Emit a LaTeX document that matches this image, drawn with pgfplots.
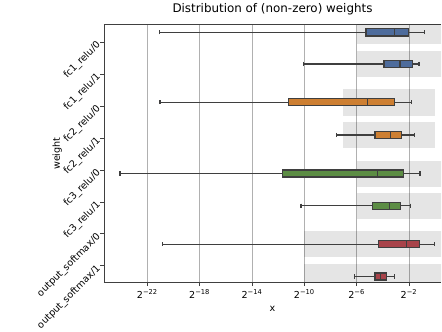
\documentclass[border=0pt]{standalone}
\usepackage{pgfplots}
\pgfplotsset{compat=1.18}
\usepgfplotslibrary{statistics}
\usepackage{fontspec}
\setmainfont{DejaVu Sans}
\definecolor{cblue}{HTML}{4E6C9C}
\definecolor{corange}{HTML}{CD7F32}
\definecolor{cgreen}{HTML}{5C8D44}
\definecolor{cred}{HTML}{A8434A}
\definecolor{edgec}{HTML}{3F3F3F}
\definecolor{gridc}{HTML}{B0B0B0}
\begin{document}
\begin{tikzpicture}
\begin{axis}[
  scale only axis, width=337pt, height=257.8pt,
  xmin=-25.31, xmax=0.45, ymin=-0.54, ymax=7.52, y dir=reverse,
  boxplot/draw direction=x,
  axis x line*=box, axis y line*=left,
  axis line style={-, line width=0.8pt, color=black!75},
  xtick={-22,-18,-14,-10,-6,-2},
  xticklabels={2\textsuperscript{−22},2\textsuperscript{−18},2\textsuperscript{−14},2\textsuperscript{−10},2\textsuperscript{−6},2\textsuperscript{−2}},
  ytick={0,1,2,3,4,5,6,7},
  yticklabels={fc1\_relu/0,fc1\_relu/1,fc2\_relu/0,fc2\_relu/1,fc3\_relu/0,fc3\_relu/1,output\_softmax/0,output\_softmax/1},
  xtick pos=bottom, ytick pos=left,
  tick align=outside, major tick length=3.5pt,
  tick style={line width=0.8pt, color=black!75},
  ticklabel style={font=\fontsize{9.6}{11}\selectfont},
  yticklabel style={rotate=45, anchor=east, inner sep=2pt},
  xmajorgrids, major grid style={color=gridc, line width=0.8pt},
  title={Distribution of (non-zero) weights},
  title style={font=\fontsize{11.9}{14}\selectfont},
  xlabel={x}, ylabel={weight},
  label style={font=\fontsize{9.6}{11}\selectfont},
  xlabel style={at={(axis description cs:0.5,-0.103)}, anchor=center},
  ylabel style={at={(axis description cs:-0.139,0.5)}, anchor=center},
]
% shaded ranges
\addplot[fill=black, fill opacity=0.1, draw=none] coordinates {(-6,-0.77) (1,-0.77) (1,0.06) (-6,0.06)} -- cycle;
\addplot[fill=black, fill opacity=0.1, draw=none] coordinates {(-6,0.27) (1,0.27) (1,1.10) (-6,1.10)} -- cycle;
\addplot[fill=black, fill opacity=0.1, draw=none] coordinates {(-7.05,1.48) (0,1.48) (0,2.30) (-7.05,2.30)} -- cycle;
\addplot[fill=black, fill opacity=0.1, draw=none] coordinates {(-7.05,2.49) (0,2.49) (0,3.32) (-7.05,3.32)} -- cycle;
\addplot[fill=black, fill opacity=0.1, draw=none] coordinates {(-6,3.71) (1,3.71) (1,4.52) (-6,4.52)} -- cycle;
\addplot[fill=black, fill opacity=0.1, draw=none] coordinates {(-6,4.71) (1,4.71) (1,5.54) (-6,5.54)} -- cycle;
\addplot[fill=black, fill opacity=0.1, draw=none] coordinates {(-10,5.91) (1,5.91) (1,6.73) (-10,6.73)} -- cycle;
\addplot[fill=black, fill opacity=0.1, draw=none] coordinates {(-10,6.93) (1,6.93) (1,7.76) (-10,7.76)} -- cycle;
% boxes (values in log2 units)
\pgfplotsset{bx/.style={draw=edgec, line width=1.2pt, solid, mark=none}}
\addplot[bx, fill=cblue, boxplot prepared={lower whisker=-21.08, lower quartile=-5.28, median=-3.12, upper quartile=-2.05, upper whisker=-0.79, draw position=-0.30, box extend=0.22, whisker extend=0.13}] coordinates {};
\addplot[bx, fill=cblue, boxplot prepared={lower whisker=-10.04, lower quartile=-3.90, median=-2.68, upper quartile=-1.74, upper whisker=-1.23, draw position=0.69, box extend=0.22, whisker extend=0.13}] coordinates {};
\addplot[bx, fill=corange, boxplot prepared={lower whisker=-21.03, lower quartile=-11.22, median=-5.15, upper quartile=-3.12, upper whisker=-1.82, draw position=1.88, box extend=0.22, whisker extend=0.13}] coordinates {};
\addplot[bx, fill=corange, boxplot prepared={lower whisker=-7.52, lower quartile=-4.59, median=-3.42, upper quartile=-2.58, upper whisker=-1.56, draw position=2.91, box extend=0.22, whisker extend=0.13}] coordinates {};
\addplot[bx, fill=cgreen, boxplot prepared={lower whisker=-24.09, lower quartile=-11.68, median=-4.42, upper quartile=-2.40, upper whisker=-1.15, draw position=4.11, box extend=0.22, whisker extend=0.13}] coordinates {};
\addplot[bx, fill=cgreen, boxplot prepared={lower whisker=-10.25, lower quartile=-4.77, median=-3.47, upper quartile=-2.66, upper whisker=-1.86, draw position=5.12, box extend=0.22, whisker extend=0.13}] coordinates {};
\addplot[bx, fill=cred, boxplot prepared={lower whisker=-20.82, lower quartile=-4.31, median=-2.19, upper quartile=-1.20, upper whisker=-0.06, draw position=6.32, box extend=0.22, whisker extend=0.13}] coordinates {};
\addplot[bx, fill=cred, boxplot prepared={lower whisker=-6.15, lower quartile=-4.59, median=-4.16, upper quartile=-3.73, upper whisker=-3.09, draw position=7.33, box extend=0.22, whisker extend=0.13}] coordinates {};
\end{axis}
\pgfresetboundingbox
\path[use as bounding box] ([xshift=-104pt,yshift=-48.5pt]current axis.south west) rectangle ([xshift=1pt,yshift=24.7pt]current axis.north east);
\end{tikzpicture}
\end{document}
